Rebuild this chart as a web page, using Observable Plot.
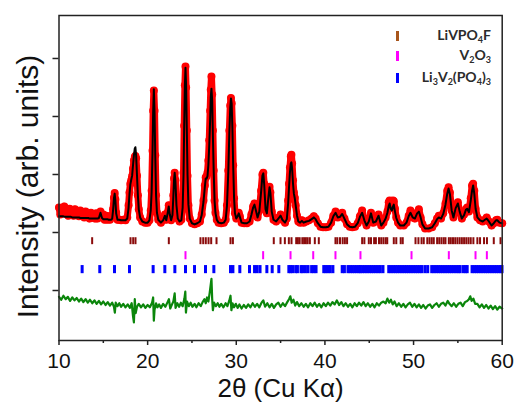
<!DOCTYPE html>
<html>
<head>
<meta charset="utf-8">
<script src="https://cdn.jsdelivr.net/npm/d3@7"></script>
<script src="https://cdn.jsdelivr.net/npm/@observablehq/plot@0.6"></script>
<style>
  html, body { margin: 0; padding: 0; background: #fff; }
  #wrap { position: relative; width: 517px; height: 411px; }
  .legend { position: absolute; left: 0; top: 0; width: 517px; height: 100px; pointer-events: none;
            font-family: Lato, "Open Sans", sans-serif; font-weight: bold; font-size: 14px; color: #2b2b2b; }
  .legend .bar { position: absolute; width: 3px; height: 10px; }
  .legend .lab { position: absolute; right: 26px; line-height: 14px; white-space: nowrap; }
  .legend sub { font-size: 9px; vertical-align: -3px; line-height: 0; }
</style>
</head>
<body>
<div id="wrap"></div>
<script>
// Rietveld refinement: observed / calculated profiles, difference and reflection markers

// 2θ sampling (degrees)
const twoTheta = [
  10.00,10.15,10.30,10.45,10.60,10.75,10.90,11.05,11.20,11.35,
  11.50,11.65,11.80,11.95,12.10,12.25,12.40,12.55,12.70,12.85,
  13.00,13.15,13.30,13.45,13.60,13.75,13.90,14.05,14.20,14.35,
  14.50,14.68,14.85,15.00,15.15,15.30,15.45,15.60,15.75,15.90,
  16.00,16.10,16.20,16.28,16.36,
  16.45,16.60,16.80,17.00,17.25,17.50,17.70,17.85,17.95,18.05,
  18.15,18.25,18.35,18.45,18.55,18.62,18.70,18.80,18.90,19.00,
  19.15,19.40,19.70,20.00,20.20,20.35,20.45,20.55,20.62,20.70,
  20.78,20.86,20.95,21.05,21.20,21.50,21.75,21.95,22.10,22.25,
  22.38,22.50,22.65,22.80,22.90,22.98,23.05,23.13,23.25,23.40,
  23.60,23.80,23.95,24.05,24.12,24.20,24.27,24.34,24.42,24.50,
  24.60,24.75,25.00,25.30,25.60,25.90,26.10,26.30,26.45,26.55,
  26.65,26.75,26.85,26.95,27.05,27.12,27.20,27.28,27.36,27.45,
  27.55,27.65,27.80,28.00,28.30,28.60,28.80,28.95,29.10,29.22,
  29.32,29.40,29.48,29.56,29.65,29.75,29.85,30.00,30.15,30.28,
  30.40,30.60,30.90,31.20,31.50,31.70,31.90,32.05,32.20,32.40,
  32.60,32.80,32.95,33.05,33.15,33.30,33.45,33.60,33.75,33.85,
  34.00,34.20,34.50,34.80,35.00,35.20,35.50,35.70,35.85,35.95,
  36.05,36.15,36.22,36.30,36.40,36.50,36.60,36.70,36.85,37.00,
  37.20,37.40,37.60,37.90,38.20,38.50,38.75,38.95,39.20,39.50,
  39.80,40.10,40.40,40.70,40.95,41.20,41.45,41.70,41.95,42.20,
  42.50,42.80,43.10,43.40,43.70,43.95,44.20,44.45,44.70,44.95,
  45.20,45.45,45.75,46.05,46.35,46.60,46.85,47.05,47.20,47.30,
  47.42,47.55,47.68,47.77,47.90,48.05,48.25,48.50,48.90,49.20,
  49.45,49.65,49.90,50.15,50.40,50.60,50.80,51.00,51.30,51.70,
  52.10,52.40,52.65,52.85,53.10,53.35,53.60,53.80,53.95,54.10,
  54.30,54.50,54.75,55.00,55.20,55.45,55.70,55.90,56.05,56.25,
  56.45,56.60,56.72,56.85,57.00,57.20,57.50,57.80,58.05,58.25,
  58.50,58.80,59.05,59.30,59.45,59.70,60.00
];

// observed intensity (arb. units)
const observed = [
  24.3,23.1,24.1,23.4,24.5,23.3,24.0,22.9,24.1,23.3,
  23.8,22.9,24.0,23.1,23.6,22.8,23.8,22.9,23.4,22.6,
  23.6,22.8,23.3,22.4,23.4,22.6,23.1,22.4,23.3,22.4,
  23.1,23.6,22.6,23.1,22.2,22.9,22.2,22.8,22.2,22.8,
  22.8,24.0,26.0,26.8,25.7,
  23.4,22.2,22.2,22.1,22.2,22.1,22.6,24.7,26.9,28.4,
  29.0,29.7,31.0,32.4,33.0,33.2,32.8,29.8,26.4,24.0,
  22.6,21.9,21.7,21.7,22.1,23.8,27.2,34.1,41.0,44.5,
  41.0,33.3,26.4,23.4,22.2,21.7,22.2,23.1,22.2,23.4,
  24.7,23.1,22.1,23.1,26.4,29.3,30.3,29.0,24.7,22.4,
  21.9,22.2,24.5,30.3,38.4,45.4,48.6,45.0,37.6,29.8,
  24.7,22.4,21.6,21.4,21.6,21.9,23.1,25.5,28.1,29.5,
  29.7,30.3,32.4,35.9,41.0,44.6,46.9,43.8,37.6,30.7,
  25.5,23.4,22.2,21.7,21.6,21.7,22.2,24.7,30.7,37.6,
  41.9,43.2,42.3,38.4,31.6,25.9,23.3,22.4,22.9,23.4,
  22.8,21.7,21.6,21.6,21.9,23.1,24.5,25.0,24.0,22.6,
  23.8,27.2,30.0,30.3,28.4,24.0,23.3,25.9,27.9,26.9,
  23.6,22.2,21.9,22.6,23.1,22.2,21.7,22.4,25.5,28.4,
  31.2,33.1,33.4,31.9,29.0,26.9,26.0,24.7,22.9,21.9,
  21.7,22.1,21.7,21.9,22.1,22.4,22.8,22.4,21.6,21.0,
  20.9,20.9,21.0,21.7,22.9,23.6,22.6,22.8,23.4,22.4,
  21.4,21.0,20.9,21.0,21.6,22.8,23.8,22.1,21.2,21.9,
  23.4,21.7,21.9,23.1,21.2,21.7,22.6,23.6,25.2,25.5,
  25.0,24.3,25.5,25.4,24.1,22.6,21.7,21.2,21.2,21.7,
  22.9,23.8,22.6,22.4,23.4,24.0,22.6,21.4,20.7,20.7,
  20.9,21.6,22.4,22.9,22.4,23.3,25.0,27.2,27.8,26.9,
  23.8,22.6,24.3,25.2,23.6,22.4,23.1,24.0,24.3,23.6,
  25.9,28.1,28.4,27.2,24.1,22.6,22.1,21.9,22.2,22.6,
  21.9,21.2,21.6,22.1,22.2,21.7,21.6
];

// calculated profile (arb. units)
const calculated = [
  22.8,22.8,22.8,22.8,22.7,22.7,22.7,22.7,22.7,22.7,
  22.6,22.6,22.6,22.6,22.6,22.6,22.5,22.5,22.5,22.5,
  22.5,22.5,22.5,22.4,22.4,22.4,22.4,22.4,22.4,22.4,
  22.5,23.4,22.5,22.3,22.3,22.3,22.3,22.2,22.2,22.2,
  22.4,23.8,25.9,26.7,25.5,
  23.3,22.2,22.2,22.1,22.1,22.1,22.4,24.3,26.6,28.3,
  29.1,29.8,31.6,33.3,34.5,34.7,33.3,29.8,26.4,24.0,
  22.6,21.9,21.7,21.7,22.1,23.8,27.0,33.8,40.6,44.7,
  40.7,33.2,26.4,23.4,22.2,21.7,22.1,22.9,22.1,23.3,
  24.5,23.1,22.1,23.0,26.2,29.1,30.3,28.9,24.7,22.4,
  21.9,22.1,24.3,30.0,38.0,45.3,48.4,45.2,37.6,29.9,
  24.8,22.4,21.6,21.4,21.6,21.9,23.0,25.3,27.8,29.3,
  29.3,29.7,31.6,35.0,39.3,43.3,44.8,42.8,36.7,30.7,
  25.5,23.4,22.2,21.7,21.6,21.7,22.2,24.6,30.5,37.3,
  41.5,43.1,42.2,38.0,31.6,26.0,23.3,22.4,22.8,23.3,
  22.7,21.7,21.6,21.6,21.9,23.0,24.3,24.8,23.9,22.6,
  23.6,27.0,29.8,30.2,28.3,24.0,23.3,25.7,27.8,26.8,
  23.6,22.2,21.9,22.5,22.9,22.2,21.7,22.3,25.0,27.8,
  30.3,31.9,32.1,31.0,28.4,26.7,25.9,24.7,22.9,21.9,
  21.7,22.0,21.7,21.9,22.0,22.3,22.6,22.3,21.6,21.0,
  20.9,20.9,21.0,21.7,22.8,23.4,22.6,22.7,23.2,22.4,
  21.4,21.0,20.9,21.0,21.6,22.7,23.4,22.1,21.2,21.9,
  23.3,21.7,21.9,22.9,21.2,21.7,22.4,23.4,24.6,25.0,
  24.1,23.8,24.5,24.8,23.6,22.5,21.7,21.2,21.2,21.7,
  22.8,23.4,22.6,22.4,23.3,23.6,22.6,21.4,20.7,20.7,
  20.9,21.6,22.3,22.6,22.4,23.2,24.8,26.7,27.6,26.6,
  23.8,22.6,24.2,25.0,23.6,22.4,23.0,23.9,24.1,23.5,
  25.5,27.2,28.1,26.7,24.1,22.6,22.1,21.9,22.2,22.4,
  21.9,21.2,21.6,22.1,22.1,21.7,21.6
];

// difference (obs − calc), drawn shifted below the pattern
const diffOffset = 7.6;
const diffTheta = [
  10.00,10.25,10.50,10.75,11.00,11.25,11.50,11.75,12.00,12.25,
  12.50,12.75,13.00,13.25,13.50,13.75,14.00,14.25,14.50,14.75,
  15.00,15.25,15.50,15.75,16.00,16.20,16.30,16.40,16.60,16.80,
  17.00,17.25,17.50,17.75,18.00,18.20,18.35,18.45,18.55,18.65,
  18.80,19.00,19.25,19.50,19.75,20.00,20.25,20.50,20.62,20.70,
  20.78,20.95,21.10,21.30,21.50,21.75,22.00,22.25,22.40,22.55,
  22.75,22.90,23.05,23.15,23.35,23.55,23.75,23.95,24.15,24.25,
  24.32,24.45,24.65,24.85,25.05,25.30,25.50,25.75,26.00,26.20,
  26.40,26.55,26.70,26.85,27.00,27.10,27.20,27.28,27.36,27.50,
  27.70,27.90,28.10,28.30,28.55,28.80,29.00,29.20,29.35,29.45,
  29.58,29.75,29.95,30.15,30.35,30.60,30.85,31.10,31.35,31.60,
  31.85,32.10,32.35,32.60,32.85,33.05,33.25,33.50,33.75,34.00,
  34.25,34.50,34.75,35.00,35.25,35.50,35.75,35.95,36.10,36.25,
  36.45,36.65,36.85,37.10,37.35,37.60,37.85,38.10,38.35,38.60,
  38.85,39.10,39.35,39.60,39.85,40.10,40.35,40.60,40.85,41.10,
  41.35,41.60,41.85,42.10,42.35,42.60,42.85,43.10,43.35,43.60,
  43.85,44.10,44.35,44.60,44.85,45.10,45.35,45.60,45.85,46.10,
  46.35,46.60,46.85,47.05,47.25,47.45,47.65,47.85,48.10,48.35,
  48.60,48.85,49.10,49.35,49.60,49.85,50.10,50.35,50.60,50.85,
  51.10,51.35,51.60,51.85,52.10,52.35,52.60,52.85,53.10,53.35,
  53.60,53.85,54.05,54.30,54.55,54.80,55.05,55.30,55.55,55.80,
  56.05,56.25,56.40,56.55,56.75,56.95,57.20,57.45,57.70,57.95,
  58.20,58.45,58.70,58.95,59.20,59.45,59.70,60.00
];
const diffValue = [
  1.3,0.8,1.5,0.9,1.3,0.6,1.2,0.7,1.1,0.5,
  1.0,0.4,0.9,0.3,0.8,0.2,0.7,0.1,0.6,0.0,
  0.5,-0.1,0.4,-0.2,0.3,-0.4,-1.4,0.3,-0.3,0.2,
  -0.4,0.1,-0.5,0.0,-0.6,0.2,-2.0,-3.1,0.9,-1.5,
  -0.4,0.1,-0.5,0.0,-0.6,-0.1,-0.5,0.3,1.2,-2.8,
  -0.9,0.2,-0.5,0.0,-0.6,0.1,-0.4,0.4,0.9,-0.7,
  0.0,0.5,1.9,-0.6,0.2,-0.4,0.3,-0.3,1.0,2.2,
  -1.4,0.5,-0.3,0.3,-0.4,0.1,-0.5,0.2,-0.3,0.4,
  0.9,0.2,1.2,0.5,2.0,3.2,4.4,1.0,-1.0,0.3,
  -0.3,0.2,-0.4,0.1,-0.5,0.2,-0.3,0.6,1.5,-1.0,
  0.2,-0.5,0.1,-0.6,0.0,-0.7,-0.1,-0.6,0.0,-0.5,
  0.2,-0.4,0.1,-0.5,0.3,0.7,-0.4,0.2,-0.5,0.1,
  -0.6,0.0,0.3,-0.4,0.2,-0.3,0.4,0.9,1.4,0.3,
  0.8,-0.2,0.4,-0.3,0.2,-0.4,0.1,-0.5,0.2,-0.3,
  0.3,-0.4,0.1,-0.5,0.2,-0.3,0.3,-0.2,0.4,0.0,
  0.7,-0.1,0.4,-0.3,0.2,-0.4,0.1,-0.5,0.2,-0.3,
  0.3,-0.2,0.4,-0.3,0.2,-0.4,0.1,-0.5,0.2,-0.2,
  0.3,0.5,0.2,1.0,0.3,0.8,0.0,0.5,-0.3,0.2,
  -0.4,0.1,-0.5,0.0,0.3,-0.4,0.1,-0.5,0.0,-0.6,
  -0.1,-0.7,-0.2,0.0,-0.6,-0.1,0.2,-0.4,0.1,0.3,
  -0.2,0.6,0.1,-0.3,0.2,-0.4,0.1,0.3,-0.3,0.4,
  0.6,0.9,1.4,0.6,1.0,0.1,0.1,-0.5,0.0,-0.6,
  -0.1,-0.7,-0.2,-0.8,-0.3,-0.9,-0.4,-0.7
];

// Bragg reflection positions (2θ) for each phase
const liVPO4FPeaks = [
  13.74,18.07,18.37,18.63,22.39,25.96,26.27,26.56,26.87,27.17,27.77,29.35,29.62,
  34.23,34.99,35.48,35.93,36.23,36.76,36.95,37.15,37.45,37.65,37.85,38.05,38.30,
  38.86,39.31,41.19,41.40,41.70,42.00,42.25,42.50,44.20,44.45,44.95,45.20,45.55,
  45.75,46.10,46.35,46.60,46.85,47.03,47.77,48.05,48.55,48.78,50.22,50.55,50.90,
  51.15,51.55,51.80,52.05,52.28,52.66,52.90,53.15,53.40,53.60,53.98,54.20,54.45,
  54.70,54.95,55.20,55.45,55.70,55.95,56.20,56.45,56.75,57.20,57.50,57.95,58.28,
  59.05,59.81
];
const v2O3Peaks = [24.27, 33.03, 36.12, 38.68, 41.19, 44.01, 49.77, 53.98, 56.99, 58.27];
const li3V2PO43Peaks = [
  12.61,14.60,16.26,17.95,20.62,21.94,23.07,24.27,25.29,26.53,27.47,29.35,29.62,
  30.40,31.49,32.06,32.35,32.68,33.45,34.05,34.80,35.93,36.12,36.35,36.70,36.90,
  37.30,37.50,37.80,38.10,38.50,38.75,39.00,39.87,40.10,40.35,40.60,40.90,41.95,
  42.20,42.60,42.85,43.10,43.35,43.60,43.85,44.00,44.25,44.50,44.75,45.00,45.25,
  45.50,45.75,46.00,46.25,46.55,47.20,47.45,47.70,47.95,48.20,48.45,48.70,48.95,
  49.20,49.45,49.70,49.95,50.20,50.45,50.70,50.95,51.30,51.60,52.05,52.30,52.55,
  52.80,53.05,53.30,53.55,53.80,54.05,54.30,54.55,54.80,55.05,55.25,55.60,55.85,
  56.05,56.60,56.85,57.10,57.35,57.60,57.85,58.10,58.35,58.60,58.85,59.10,59.35,
  59.60,59.85,59.98
];

// axis ticks
const xMajorTicks = [10, 20, 30, 40, 50, 60];
const xMinorTicks = [15, 25, 35, 45, 55];
const yTicks = [10, 20, 30, 40, 50];

const pattern = twoTheta.map((t, i) => ({t, obs: observed[i], calc: calculated[i]}));
const difference = diffTheta.map((t, i) => ({t, d: diffValue[i]}));

const chart = Plot.plot({
  width: 517,
  height: 411,
  marginLeft: 58.5,
  marginRight: 15.3,
  marginTop: 15,
  marginBottom: 71,
  x: {domain: [10, 60]},
  y: {domain: [1.38, 57.41]},
  style: {fontFamily: "'Liberation Sans', Arial, sans-serif", fontSize: "21px", color: "#111", background: "#fff"},
  marks: [
    Plot.axisX({ticks: xMajorTicks, tickSize: 5, tickPadding: 8, tickFormat: d => String(d), label: null, stroke: "#222", strokeWidth: 1.5}),
    Plot.axisX({ticks: xMinorTicks, tickSize: 3, tickFormat: () => "", label: null, stroke: "#222", strokeWidth: 1.5}),
    Plot.axisY({ticks: yTicks, tickSize: 6, tickFormat: () => "", label: null, stroke: "#222", strokeWidth: 1.5}),

    // reflection markers
    Plot.ruleX(liVPO4FPeaks, {y1: 17.9, y2: 19.1, stroke: "#8b0b0b", strokeWidth: 2}),
    Plot.ruleX(v2O3Peaks, {y1: 15.3, y2: 16.7, stroke: "#ff00ff", strokeWidth: 2}),
    Plot.ruleX(li3V2PO43Peaks, {y1: 12.9, y2: 14.3, stroke: "#0000ff", strokeWidth: 3}),

    // difference curve
    Plot.line(difference, {x: "t", y: d => diffOffset + d.d, stroke: "#0b860b", strokeWidth: 2.2}),

    // observed points and calculated profile
    Plot.line(pattern, {x: "t", y: "obs", stroke: "#ff0000", strokeWidth: 7, strokeLinejoin: "round"}),
    Plot.dot(pattern, {x: "t", y: "obs", r: 4, fill: "#ff0000"}),
    Plot.line(pattern, {x: "t", y: "calc", stroke: "#000", strokeWidth: 2}),

    Plot.frame({stroke: "#222", strokeWidth: 1.5}),

    // axis titles
    Plot.text(["Intensity (arb. units)"], {frameAnchor: "left", textAnchor: "middle", rotate: -90, dx: -31, dy: 8.5, fontSize: 30, fill: "#111"}),
    Plot.text(["2θ (Cu Kα)"], {frameAnchor: "bottom", dy: 56, fontSize: 26, fill: "#111"})
  ]
});

const wrap = document.getElementById("wrap");
wrap.appendChild(chart);

// phase legend
const legendEntries = [
  {html: "LiVPO<sub>4</sub>F", color: "#a8561c", top: 26},
  {html: "V<sub>2</sub>O<sub>3</sub>", color: "#ff00ff", top: 46},
  {html: "Li<sub>3</sub>V<sub>2</sub>(PO<sub>4</sub>)<sub>3</sub>", color: "#0000ff", top: 68}
];
const legend = document.createElement("div");
legend.className = "legend";
for (const e of legendEntries) {
  const bar = document.createElement("div");
  bar.className = "bar";
  bar.style.left = "396px";
  bar.style.top = (e.top + 5) + "px";
  bar.style.background = e.color;
  legend.appendChild(bar);
  const lab = document.createElement("div");
  lab.className = "lab";
  lab.style.top = (e.top + 2) + "px";
  lab.innerHTML = e.html;
  legend.appendChild(lab);
}
wrap.appendChild(legend);
</script>
</body>
</html>
